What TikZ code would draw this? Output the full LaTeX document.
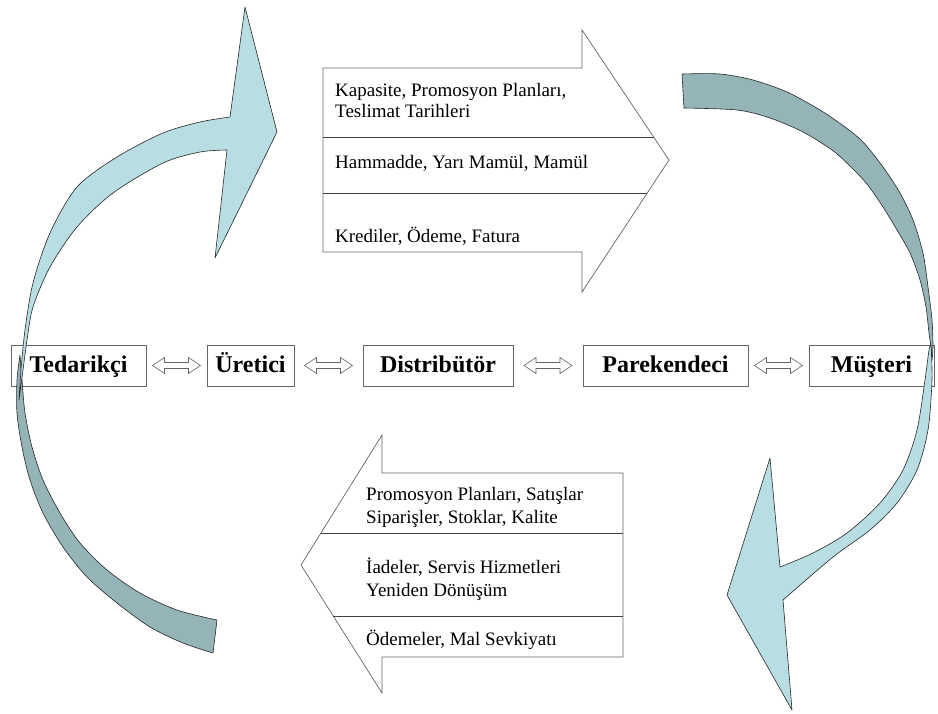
\documentclass[tikz,border=0pt]{standalone}
\usepackage{fontspec}
\setmainfont{Liberation Serif}
\usetikzlibrary{calc}
\definecolor{lightcy}{RGB}{184,222,227}
\definecolor{darkcy}{RGB}{148,180,184}
\definecolor{edgegray}{RGB}{100,100,100}
\tikzset{
 lightarr/.style={fill=lightcy, draw=black!85, line width=0.6pt, line join=round},
 darkarr/.style={fill=darkcy, draw=black!85, line width=0.6pt, line join=round},
 bigarrow/.style={fill=white, draw=edgegray, line width=0.7pt},
 divider/.style={draw=black!75, line width=0.8pt},
 entity/.style={draw=edgegray, line width=0.8pt, minimum height=41pt, inner sep=0pt, text height=18pt, text depth=4pt, font=\fontsize{24}{28}\selectfont\bfseries},
 flowtxt/.style={anchor=base west, inner sep=0pt, font=\fontsize{19}{22}\selectfont},
 dblarrow/.style={draw=edgegray, fill=white, line width=0.6pt, line join=miter},
}
\newcommand{\linkarrow}[2]{%
  \path ($(#1.east)!0.5!(#2.west)$) coordinate (m#1#2);
  \draw[dblarrow] ($(m#1#2)+(-24,0)$) -- ++(12,-8) -- ++(0,5) -- ++(24,0) -- ++(0,-5) -- ++(12,8) -- ++(-12,8) -- ++(0,-5) -- ++(-24,0) -- ++(0,5) -- cycle;}
\begin{document}
\begin{tikzpicture}[x=1pt,y=-1pt]
\useasboundingbox (0,0) rectangle (938,713);
\fill[white] (0,0) rectangle (938,713);

% ---- top flow arrow (to the right)
\draw[bigarrow] (323,68) -- (582,68) -- (582,30) -- (669,160) -- (582,292) -- (582,252) -- (323,252) -- cycle;
\draw[divider] (323,137) -- (653.6,137);
\draw[divider] (323,193) -- (647.2,193);
\node[flowtxt] (t1) at (335,96) {Kapasite, Promosyon Planları,};
\node[flowtxt] (t2) at (335,117) {Teslimat Tarihleri};
\node[flowtxt] (t3) at (335,168) {Hammadde, Yarı Mamül, Mamül};
\node[flowtxt] (t4) at (335,242.5) {Krediler, Ödeme, Fatura};

% ---- bottom flow arrow (to the left)
\draw[bigarrow] (623,473) -- (382,473) -- (382,435) -- (301,565) -- (382,693) -- (382,657) -- (623,657) -- cycle;
\draw[divider] (320.9,533) -- (623,533);
\draw[divider] (333.3,616) -- (623,616);
\node[flowtxt] (b1) at (366,500) {Promosyon Planları, Satışlar};
\node[flowtxt] (b2) at (366,523) {Siparişler, Stoklar, Kalite};
\node[flowtxt] (b3) at (366,573) {İadeler, Servis Hizmetleri};
\node[flowtxt] (b4) at (366,596) {Yeniden Dönüşüm};
\node[flowtxt] (b5) at (366,645) {Ödemeler, Mal Sevkiyatı};

% ---- chain of entities
\node[entity, minimum width=135pt] (T) at (78.5,365.5) {Tedarikçi};
\node[entity, minimum width=87pt] (U) at (250.5,365.5) {Üretici};
\node[entity, minimum width=150pt] (D) at (438,365.5) {Distribütör};
\node[entity, minimum width=165pt] (P) at (665.5,365.5) {Parekendeci};
\node[entity, minimum width=125pt] (M) at (871.5,365.5) {Müşteri};
\linkarrow{T}{U}
\linkarrow{U}{D}
\linkarrow{D}{P}
\linkarrow{P}{M}

% ---- left curved arrow
\draw[darkarr] plot[smooth] coordinates {(20,355) (17,380) (17,413) (22,447) (30,480) (43,513) (63,547) (87,577) (117,603) (150,627) (183,643) (213,653)}
  -- (217,620)
  -- plot[smooth] coordinates {(217,620) (177,610) (140,593) (107,570) (80,543) (60,513) (43,480) (32,447) (25,413) (22,380) (20,355)} -- cycle;
\draw[lightarr] plot[smooth] coordinates {(19,400) (21,370) (25,330) (33,283) (50,233) (77,187) (117,157) (163,133) (200,122) (230,117)}
  -- (245,7) -- (277,132) -- (215,258) -- (227,150)
  -- plot[smooth] coordinates {(227,150) (200,152) (163,163) (113,193) (77,227) (50,267) (33,307) (27,340) (23,370) (19,400)} -- cycle;

% ---- right curved arrow
\draw[darkarr] plot[smooth] coordinates {(682,74) (720,74) (753,80) (787,92) (820,110) (845,127) (863,142) (883,167) (900,193) (913,220) (923,253) (928,287) (932,320) (933,347) (932,360)}
  -- plot[smooth] coordinates {(932,360) (931,347) (929,333) (926,307) (920,280) (910,253) (897,230) (883,207) (867,184) (850,166) (832,150) (803,132) (770,118) (737,110) (684,108)} -- cycle;
\draw[lightarr] plot[smooth] coordinates {(931,345) (932,380) (928,430) (917,470) (897,503) (870,530) (833,557) (783,600)}
  -- (792,710) -- (727,595) -- (770,458) -- (780,567)
  -- plot[smooth] coordinates {(780,567) (813,553) (847,533) (880,503) (903,470) (917,430) (925,380) (929,350) (931,345)} -- cycle;
\end{tikzpicture}
\end{document}
